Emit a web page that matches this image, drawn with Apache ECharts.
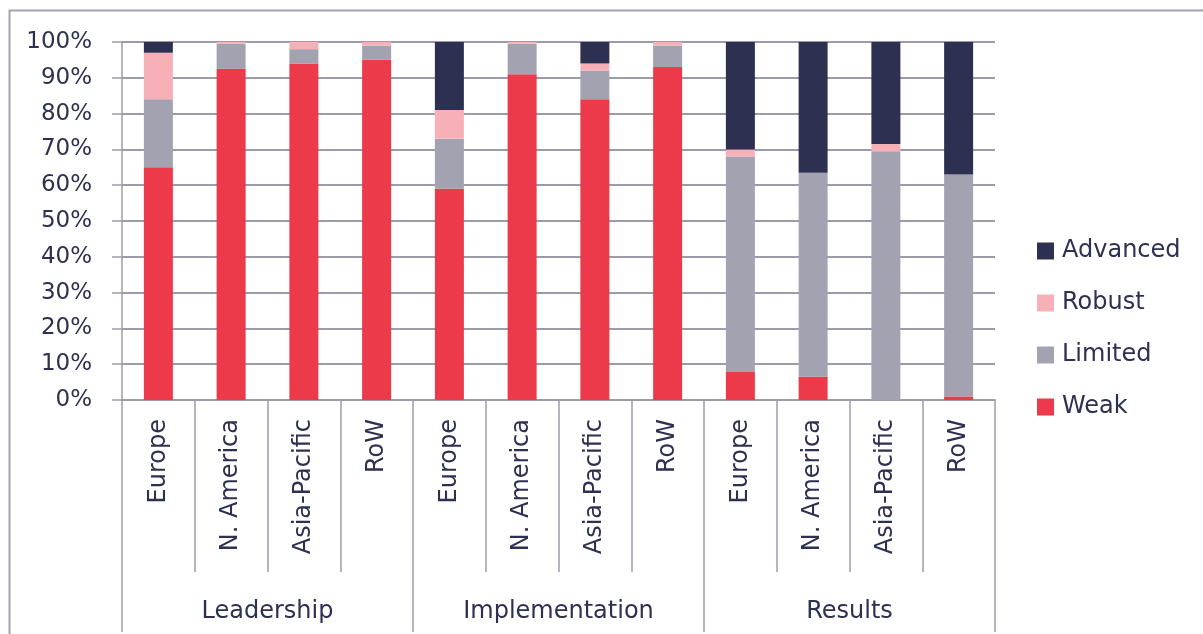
<!DOCTYPE html>
<html>
<head>
<meta charset="utf-8">
<script src="https://cdn.jsdelivr.net/npm/echarts@6/dist/echarts.min.js"></script>
<style>
html,body{margin:0;padding:0;background:#fff;}
#chart{width:1203px;height:634px;}
</style>
</head>
<body>
<div id="chart"></div>
<script>
const categories = ['Europe','N. America','Asia-Pacific','RoW','Europe','N. America','Asia-Pacific','RoW','Europe','N. America','Asia-Pacific','RoW'];
const groups = ['Leadership','Implementation','Results'];
const yTicks = [0,10,20,30,40,50,60,70,80,90,100];
const weak     = [65, 92.5, 94, 95,   59, 91, 84, 93,   8, 6.5, 0, 1];
const limited  = [19, 7, 4, 4,        14, 8.5, 8, 6,    60, 57, 69.5, 62];
const robust   = [13, 0.5, 2, 1,      8, 0.5, 2, 1,     2, 0, 2, 0];
const advanced = [3, 0, 0, 0,         19, 0, 6, 0,      30, 36.5, 28.5, 37];

const textColor = '#2d3050';
const lineColor = '#9d9ba9';
const font = 'DejaVu Sans';

const chart = echarts.init(document.getElementById('chart'), null, {renderer:'canvas'});
const mk = (name, data, color) => ({
  name, type:'bar', stack:'total', data, barWidth:29,
  itemStyle:{color}, emphasis:{disabled:true}
});
chart.setOption({
  animation:false,
  textStyle:{fontFamily:font, color:textColor},
  graphic:[{type:'rect', shape:{x:9.5,y:10.5,width:1400,height:800}, style:{fill:null, stroke:'#a3a2b0', lineWidth:2}, silent:true}],
  grid:{left:122, right:208, top:42, bottom:234, containLabel:false},
  legend:{
    orient:'vertical', left:1032, top:234, itemWidth:17, itemHeight:17, itemGap:28,
    icon:'rect',
    data:['Advanced','Robust','Limited','Weak'],
    textStyle:{fontFamily:font, fontSize:24, color:textColor, padding:[0,0,0,3]}
  },
  xAxis:[{
    type:'category', data:categories, position:'bottom',
    axisLine:{lineStyle:{color:lineColor, width:2}},
    axisTick:{show:true, interval:0, length:172, lineStyle:{color:lineColor, width:1.5}},
    axisLabel:{interval:0, rotate:90, margin:19, fontFamily:font, fontSize:24, color:textColor}
  },{
    type:'category', data:groups, position:'bottom',
    axisLine:{show:false},
    axisTick:{show:true, interval:0, length:232, lineStyle:{color:lineColor, width:1.5}},
    axisLabel:{interval:0, margin:200, fontFamily:font, fontSize:24, color:textColor}
  }],
  yAxis:{
    type:'value', min:0, max:100, interval:10,
    axisLine:{show:true, lineStyle:{color:lineColor, width:1.5}},
    axisTick:{show:true, length:10, lineStyle:{color:lineColor, width:1.5}},
    splitLine:{show:true, lineStyle:{color:lineColor, width:2}},
    axisLabel:{margin:30, fontFamily:font, fontSize:23, color:textColor, formatter:v=>v+'%'}
  },
  series:[
    mk('Weak', weak, '#ec3a4a'),
    mk('Limited', limited, '#a3a2b0'),
    mk('Robust', robust, '#f7b0b7'),
    mk('Advanced', advanced, '#2d3050')
  ]
});
</script>
</body>
</html>
